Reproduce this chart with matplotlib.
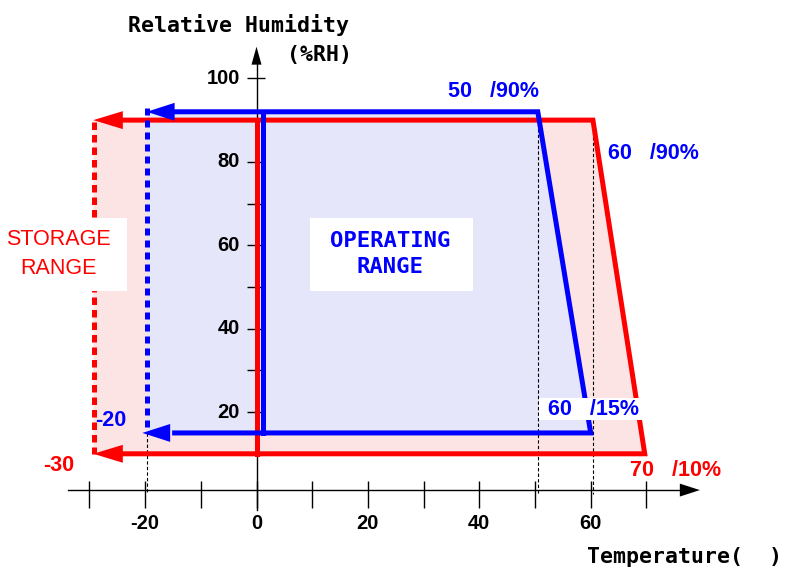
import matplotlib
matplotlib.use("Agg")
import matplotlib.pyplot as plt
from matplotlib.patches import Rectangle

# storage range outline (temperature degC, humidity %RH) as drawn
storage_t = [-29.3, 69.7, 60.4, -29.3]
storage_rh = [10, 10, 90, 90]
# operating range outline
operating_t = [-19.7, 60.0, 50.5, -19.7]
operating_rh = [15, 15, 92, 92]

x_ticks = [-30, -20, -10, 0, 10, 20, 30, 40, 50, 60, 70]
x_labels = [-20, 0, 20, 40, 60]
y_ticks = [10, 20, 30, 40, 50, 60, 70, 80, 90, 100]
y_labels = [20, 40, 60, 80, 100]

RED = "#ff0000"
BLUE = "#0000ff"
PINK = "#fde4e4"
LAV = "#e6e6fa"
SANS = ["Liberation Sans", "DejaVu Sans"]
MONO = "DejaVu Sans Mono"

fig = plt.figure(figsize=(7.88, 5.71), dpi=100)
ax = fig.add_axes([0, 0, 1, 1])
ax.set_xlim(-46.05, 95.42)
ax.set_ylim(-18.1, 118.8)
ax.axis("off")

# fills
ax.fill(storage_t, storage_rh, color=PINK, lw=0, zorder=1)
ax.fill(operating_t, operating_rh, color=LAV, lw=0, zorder=2)

LW = 3.6
# storage outline (open on the left, arrows there)
s_left = storage_t[0] + 5.3
ax.plot([s_left, storage_t[1], storage_t[2], s_left],
        [storage_rh[0], storage_rh[1], storage_rh[2], storage_rh[3]],
        color=RED, lw=LW, solid_joinstyle="miter", zorder=5)
ax.plot([0.1, 0.1], [storage_rh[2], storage_rh[0]], color=RED, lw=LW, zorder=5)
ax.plot([storage_t[0] + 0.2] * 2, [storage_rh[3] - 0.5, storage_rh[0]], color=RED,
        lw=LW, ls=(0, (1.5, 1.0)), zorder=5)
for y in (storage_rh[0], storage_rh[3]):
    ax.arrow(s_left, y, -5.3, 0, width=0, head_width=4.3, head_length=5.3,
             length_includes_head=True, color=RED, lw=0, zorder=6)

# operating outline
o_left = operating_t[0] + 5.0
ax.plot([o_left, operating_t[1], operating_t[2], o_left],
        [operating_rh[0], operating_rh[1], operating_rh[2], operating_rh[3]],
        color=BLUE, lw=LW, solid_joinstyle="miter", zorder=7)
ax.plot([1.2, 1.2], [operating_rh[2], operating_rh[0]], color=BLUE, lw=LW, zorder=7)
ax.plot([operating_t[0]] * 2, [operating_rh[3] + 0.8, operating_rh[0] + 1.5], color=BLUE,
        lw=LW, ls=(0, (1.4, 1.0)), zorder=7)
ax.arrow(o_left, operating_rh[2], -5.0, 0, width=0, head_width=4.3, head_length=5.0,
         length_includes_head=True, color=BLUE, lw=0, zorder=8)
ax.arrow(o_left, operating_rh[0], -5.0 - 0.8, 0, width=0, head_width=4.3, head_length=5.0,
         length_includes_head=True, color=BLUE, lw=0, zorder=8)

# thin guide lines down to the axis
AX_Y = 1.3
for t, rh in ((-19.7, operating_rh[0]), (operating_t[2], operating_rh[2]), (storage_t[2], storage_rh[2])):
    ax.plot([t, t], [rh, AX_Y - 1], color="black", lw=0.8, ls=(0, (3, 2)), zorder=3)

# axes
ax.plot([-33.8, 76], [AX_Y, AX_Y], color="black", lw=1.0, zorder=9)
ax.arrow(76, AX_Y, 3.6, 0, width=0, head_width=3.1, head_length=3.6,
         length_includes_head=True, color="black", lw=0, zorder=9)
ax.plot([0, 0], [-3.5, 104], color="black", lw=1.0, zorder=4)
ax.arrow(0, 103.3, 0, 4.3, width=0, head_width=1.8, head_length=4.3,
         length_includes_head=True, color="black", lw=0, zorder=9)
ax.vlines(x_ticks, -3.0, 3.5, color="black", lw=1.0, zorder=9)
ax.hlines(y_ticks, -1.7, 1.5, color="black", lw=1.0, zorder=4)

for v in x_labels:
    ax.text(v, -6.6, f"{v}", ha="center", va="center", fontsize=14.5, fontweight="bold",
            family=SANS, zorder=10)
for v in y_labels:
    ax.text(-3.0, v, f"{v}", ha="right", va="center", fontsize=14.5, fontweight="bold",
            family=SANS, zorder=10)

ax.text(-23.0, 112.8, "Relative Humidity", ha="left", va="center", fontsize=15.5,
        fontweight="bold", family=MONO, zorder=10)
ax.text(17.2, 105.6, "(%RH)", ha="right", va="center", fontsize=15.5, fontweight="bold",
        family=MONO, zorder=10)
ax.text(59.3, -14.7, "Temperature(  )", ha="left", va="center", fontsize=15.5,
        fontweight="bold", family=MONO, zorder=10)

# range labels on white boxes
ax.add_patch(Rectangle((-46.05, 49.0), 22.85, 17.5, color="white", lw=0, zorder=9))
ax.text(-35.6, 57.9, "STORAGE\nRANGE", ha="center", va="center", color=RED, fontsize=15.5,
        family=SANS, linespacing=1.5, zorder=10)
ax.add_patch(Rectangle((9.6, 49.1), 29.3, 17.5, color="white", lw=0, zorder=9))
ax.text(24.0, 57.9, "OPERATING\nRANGE", ha="center", va="center", color=BLUE, fontsize=16,
        fontweight="bold", family=MONO, linespacing=1.4, zorder=10)

# corner annotations
NOTE = dict(ha="left", va="center", fontsize=15.5, fontweight="bold", family=SANS, zorder=10)
ax.text(34.4, 96.8, "50   /90%", color=BLUE, **NOTE)
ax.text(63.1, 82.1, "60   /90%", color=BLUE, **NOTE)
ax.add_patch(Rectangle((50.7, 18.1), 19.2, 5.3, color="white", lw=0, zorder=9))
ax.text(52.3, 20.7, "60   /15%", color=BLUE, **NOTE)
ax.text(67.1, 5.9, "70   /10%", color=RED, **NOTE)
ax.text(-29.0, 18.1, "-20", color=BLUE, **NOTE)
ax.text(-38.3, 7.3, "-30", color=RED, **NOTE)

fig.savefig("out.png", dpi=100)
